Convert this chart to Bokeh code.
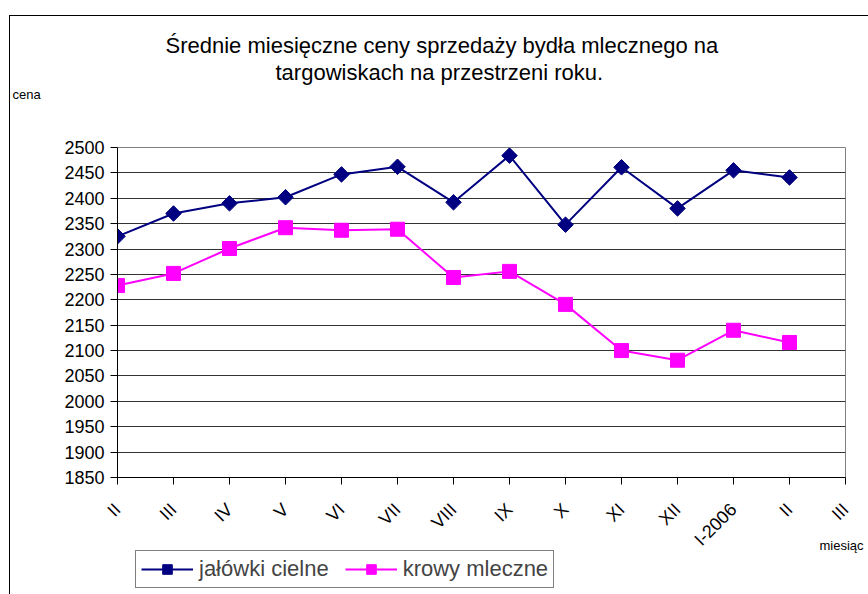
import math
from bokeh.plotting import figure
from bokeh.models import (FixedTicker, SingleIntervalTicker, Legend, LegendItem, Title, Range1d)
from bokeh.embed import file_html
from bokeh.resources import INLINE

# ---- data ----
months = ["II", "III", "IV", "V", "VI", "VII", "VIII", "IX", "X", "XI", "XII", "I-2006", "II", "III"]
jalowki = [2325, 2370, 2390, 2402, 2447, 2462, 2392, 2484, 2348, 2461, 2380, 2455, 2441]
krowy = [2228, 2252, 2301, 2342, 2337, 2339, 2244, 2256, 2191, 2100, 2081, 2140, 2116]
y_min, y_max, y_step = 1850, 2500, 50

title_lines = ["Średnie miesięczne ceny sprzedaży bydła mlecznego na",
               "targowiskach na przestrzeni roku."]
y_label = "cena"
x_label = "miesiąc"
series_names = ["jałówki cielne", "krowy mleczne"]

FONT = "Liberation Sans"

xs = list(range(len(months)))
xj = xs[:len(jalowki)]
xk = xs[:len(krowy)]

p = figure(frame_width=728, frame_height=330, output_backend="svg", toolbar_location=None,
           x_range=Range1d(0, len(months) - 1), y_range=Range1d(y_min, y_max),
           min_border_left=107, min_border_right=23, min_border_top=131, min_border_bottom=125)
p.styles = {"border-left": "1px solid black", "border-top": "1px solid black",
            "margin-left": "9px", "margin-top": "15px"}
try:
    from bokeh.models import GlobalInlineStyleSheet
    p.stylesheets = [GlobalInlineStyleSheet(
        css="html, body {margin: 0 !important; padding: 0 !important; overflow: hidden !important;}")]
except Exception:
    pass

p.background_fill_color = "white"
p.border_fill_color = "white"
p.outline_line_color = "#808080"
p.outline_line_width = 1

# axes
p.xaxis.ticker = FixedTicker(ticks=xs)
p.xaxis.major_label_overrides = {i: m for i, m in enumerate(months)}
p.xaxis.major_label_orientation = math.pi / 4
p.yaxis.ticker = SingleIntervalTicker(interval=y_step, num_minor_ticks=0)
for ax in (p.xaxis[0], p.yaxis[0]):
    ax.axis_line_color = "black"
    ax.axis_line_width = 1
    ax.major_tick_line_color = "black"
    ax.major_tick_in = 0
    ax.major_tick_out = 7
    ax.minor_tick_line_color = None
    ax.major_label_text_font = FONT
    ax.major_label_text_font_size = "18px"
    ax.major_label_text_color = "black"
p.yaxis.major_label_standoff = 6
p.xaxis.major_label_standoff = 22

p.xgrid.grid_line_color = None
p.ygrid.grid_line_color = "#333333"
p.ygrid.grid_line_width = 1

# series
lj = p.line(xj, jalowki, line_color="#000080", line_width=2)
sj = p.scatter(xj, jalowki, marker="square", angle=math.pi / 4, size=11,
               fill_color="#000080", line_color="#000080")
lk = p.line(xk, krowy, line_color="#FF00FF", line_width=2)
sk = p.scatter(xk, krowy, marker="square", size=14,
               fill_color="#FF00FF", line_color="#FF00FF")


def mk_title(text, size, align="left", offset=0, standoff=0, valign="middle"):
    return Title(text=text, align=align, offset=offset, standoff=standoff,
                 vertical_align=valign, text_font=FONT, text_font_size=size,
                 text_font_style="normal", text_color="black")


# above panels: innermost first
p.add_layout(mk_title(" ", "10px", standoff=32), "above")          # spacer
p.add_layout(mk_title(y_label, "13px", offset=-105), "above")
p.add_layout(mk_title(title_lines[1], "22px", offset=158), "above")
p.add_layout(mk_title(title_lines[0], "22px", offset=48), "above")

# below: x axis, then x label
xt = mk_title(x_label, "13px", align="right", offset=-18, valign="top")
try:
    xt.standoff = -44
except Exception:
    pass
p.add_layout(xt, "below")

# legend in right side panel, positioned back under the plot area
legend = Legend(items=[LegendItem(label=series_names[0], renderers=[lj, sj]),
                       LegendItem(label=series_names[1], renderers=[lk, sk])],
                orientation="horizontal", location=(-710, -111),
                label_text_font=FONT, label_text_font_size="22px",
                border_line_color="black", border_line_width=1,
                background_fill_color="white", background_fill_alpha=1,
                padding=5, spacing=16, glyph_width=52, glyph_height=24,
                label_standoff=6, label_height=24, margin=0)
p.add_layout(legend, "right")

open("out.html", "w").write(file_html(p, INLINE))
